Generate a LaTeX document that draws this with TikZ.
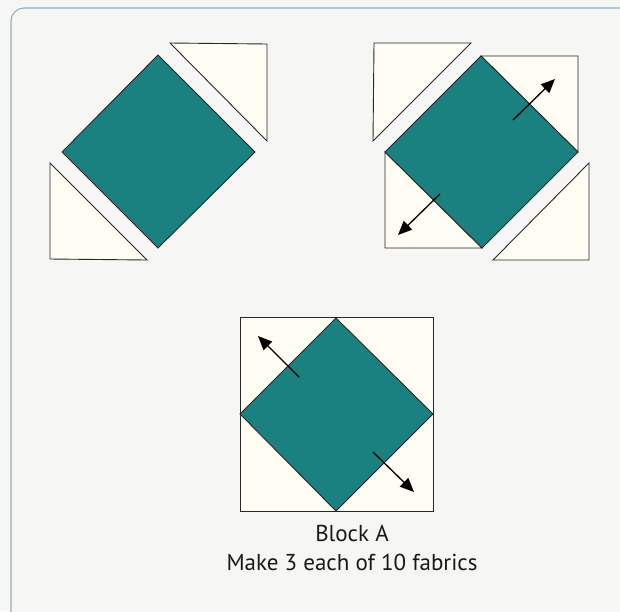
\documentclass[tikz,border=0pt]{standalone}
\usepackage{xcolor}
\usepackage{fontspec}
\setmainfont{PT Sans}
\usepackage{tikz}
\usetikzlibrary{
  arrows.meta,
  positioning,
  calc
}
\definecolor{QuiltTeal}{RGB}{27,128,128}
\definecolor{CreamFab}{RGB}{255,252,244}
\definecolor{PanelGray}{RGB}{246,246,244}
\definecolor{FrameBlue}{RGB}{152,172,188}
\definecolor{SeamGray}{RGB}{40,40,40}
\tikzset{
  %%── 布块 ─────────────────────────────────────────────
  teal/.style  = {draw = SeamGray, fill = QuiltTeal, line width = 0.9pt, line join = miter},
  cream/.style = {draw = SeamGray, fill = CreamFab,  line width = 0.9pt, line join = miter},
  %%── 外框 ─────────────────────────────────────────────
  panel/.style = {draw = FrameBlue, fill = PanelGray, line width = 1.1pt, rounded corners = 13pt},
  %%── 布纹方向箭头 ─────────────────────────────────────
  grain/.style = {-{Triangle[length=14pt, width=12pt]}, line width = 1.3pt, color = black},
  caption/.style = {align = center, font = \fontsize{23}{29}\selectfont, text = black!90}
}

\begin{document}
\begin{tikzpicture}[x=1pt, y=-1pt]
  \useasboundingbox (0,0) rectangle (620,611);
  \clip (0,0) rectangle (620,611);
  \fill[PanelGray] (0,0) rectangle (620,611);
  \draw[panel] (11,8) rectangle (634,625);

  %% 左上：分开的三块
  \draw[teal]  (158,55) -- (255,152) -- (158,248) -- (62,152) -- cycle;
  \draw[cream] (170,43) -- (267,44) -- (267,141) -- cycle;
  \draw[cream] (50,163) -- (50,259) -- (147,260) -- cycle;

  %% 右上：两角已缝
  \draw[cream] (481,56) -- (578,56) -- (578,152) -- cycle;
  \draw[cream] (385,152) -- (385,248) -- (482,248) -- cycle;
  \draw[teal]  (481,56) -- (578,152) -- (482,248) -- (385,152) -- cycle;
  \draw[cream] (374,43) -- (471,43) -- (373,141) -- cycle;
  \draw[cream] (589,163) -- (589,260) -- (493,260) -- cycle;
  \coordinate (r1s) at (513,120);
  \coordinate (r1e) at (555,79);
  \coordinate (r2s) at (440,194);
  \coordinate (r2e) at (398,235);
  \draw[grain] (r1s) -- (r1e);
  \draw[grain] (r2s) -- (r2e);

  %% 下方：完成的 Block A
  \draw[cream] (240,317) rectangle (433,511);
  \draw[teal]  (336,318) -- (433,414) -- (336,511) -- (240,414) -- cycle;
  \coordinate (b1s) at (299,377);
  \coordinate (b1e) at (258,336);
  \coordinate (b2s) at (373,452);
  \coordinate (b2e) at (414,492);
  \draw[grain] (b1s) -- (b1e);
  \draw[grain] (b2s) -- (b2e);

  \node[caption, anchor=north] (cap) at (352,522)
    {Block A\\Make 3 each of 10 fabrics};
\end{tikzpicture}
\end{document}
